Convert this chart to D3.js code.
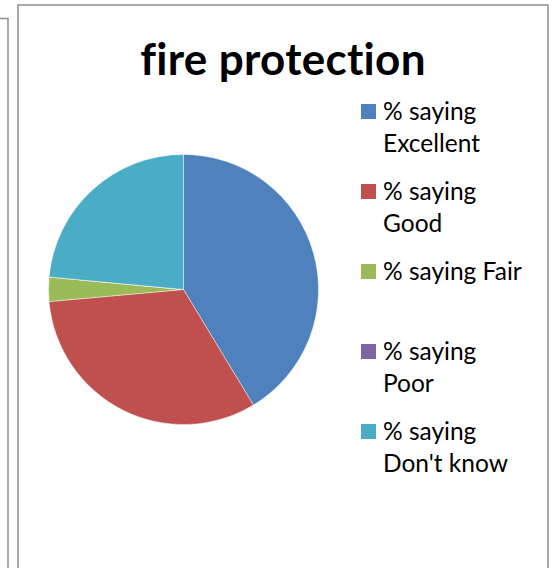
<!DOCTYPE html>
<html>
<head>
<meta charset="utf-8">
<script src="https://cdn.jsdelivr.net/npm/d3@7"></script>
<style>
  html, body { margin: 0; padding: 0; background: #fff; }
  svg { display: block; }
  text, tspan { font-variant-ligatures: none; font-feature-settings: "liga" 0, "clig" 0, "dlig" 0; }
</style>
</head>
<body>
<svg id="chart" width="554" height="568"></svg>
<script>
const title = "fire protection";
const categories = ["% saying Excellent", "% saying Good", "% saying Fair", "% saying Poor", "% saying Don't know"];
const values = [41.3, 32.2, 2.9, 0, 23.5];
const colors = ["#4F81BD", "#C0504D", "#9BBB59", "#8064A2", "#4BACC6"];

const svg = d3.select("#chart");
const font = "Lato, 'Open Sans', sans-serif";

// frames
const frameColor = "#8f8f8f";
svg.append("path")
  .attr("d", "M0,18.5 H8 V568")
  .attr("fill", "none").attr("stroke", frameColor).attr("stroke-width", 1.5);
svg.append("path")
  .attr("d", "M18,568 V5 H548 V568")
  .attr("fill", "none").attr("stroke", frameColor).attr("stroke-width", 1.5);

// title
svg.append("text")
  .attr("x", 283).attr("y", 75)
  .attr("text-anchor", "middle")
  .attr("font-family", font).attr("font-weight", "bold")
  .attr("font-size", 44)
  .attr("letter-spacing", 0.3)
  .style("font-variant-ligatures", "none")
  .style("font-feature-settings", "'liga' 0")
  .attr("fill", "#000")
  .text(title);

// pie
const cx = 183.5, cy = 289.5, r = 135;
const pie = d3.pie().sort(null).value(d => d)(values);
const arc = d3.arc().innerRadius(0).outerRadius(r);
svg.append("g").attr("transform", `translate(${cx},${cy})`)
  .selectAll("path").data(pie).join("path")
  .attr("d", arc)
  .attr("fill", (d, i) => colors[i])
  .attr("stroke", "#ffffff").attr("stroke-width", 0.6).attr("stroke-opacity", 0.7);

// legend
const legX = 361, textX = 383, firstBase = 120, step = 80, lineH = 32, maxW = 141;
const leg = svg.append("g");
categories.forEach((label, i) => {
  const base = firstBase + step * i;
  leg.append("rect")
    .attr("x", legX).attr("y", base - 16)
    .attr("width", 15).attr("height", 15)
    .attr("fill", colors[i]);
  const t = leg.append("text")
    .attr("font-family", font).attr("font-size", 24.5)
    .attr("fill", "#000");
  // word wrap
  const words = label.split(" ");
  let lines = [], cur = "";
  const tmp = t.append("tspan");
  words.forEach(w => {
    const test = cur ? cur + " " + w : w;
    tmp.text(test);
    if (tmp.node().getComputedTextLength() > maxW && cur) {
      lines.push(cur); cur = w;
    } else cur = test;
  });
  lines.push(cur);
  tmp.remove();
  lines.forEach((ln, k) => {
    t.append("tspan").attr("x", textX).attr("y", base + k * lineH).text(ln);
  });
});
</script>
</body>
</html>
